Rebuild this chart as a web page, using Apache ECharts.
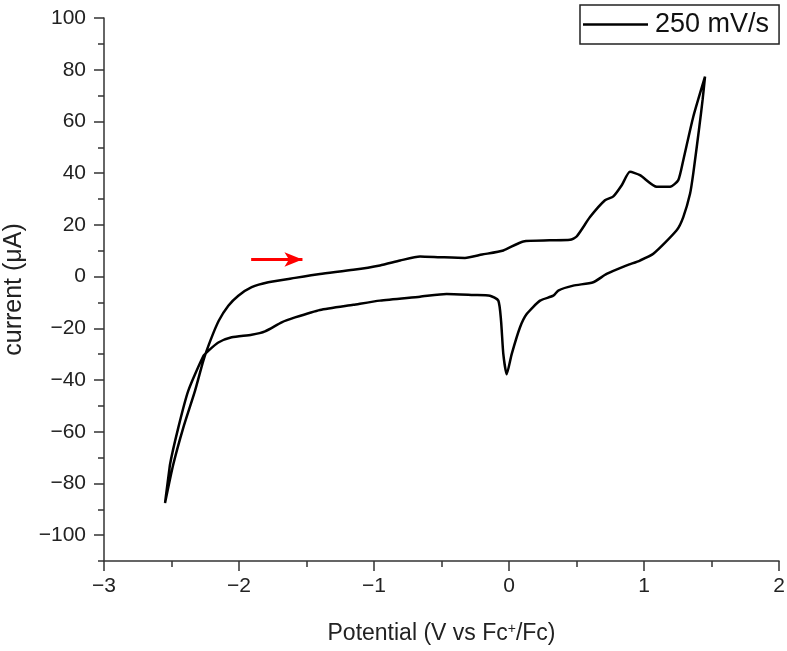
<!DOCTYPE html>
<html>
<head>
<meta charset="utf-8">
<script src="https://cdn.jsdelivr.net/npm/echarts@6/dist/echarts.min.js"></script>
<style>
  html, body { margin: 0; padding: 0; background: #fff; }
  #chart { width: 787px; height: 651px; }
</style>
</head>
<body>
<div id="chart"></div>
<script>
// forward scan (upper branch), V vs Fc+/Fc and µA
const forwardPotential = [-2.548, -2.487, -2.413, -2.326, -2.264, -2.21, -2.15, -2.079, -2.005, -1.906,
  -1.783, -1.585, -1.4, -1.153, -0.956, -0.807, -0.659, -0.511, -0.326, -0.2, -0.042, 0.106, 0.3, 0.452,
  0.501, 0.6, 0.711, 0.773, 0.835, 0.896, 0.97, 1.094, 1.193, 1.254, 1.291, 1.365, 1.452]
const forwardCurrent = [-87.6, -72.7, -58.5, -44.2, -32.5, -24.5, -17.1, -11.3, -7.4, -4.1,
  -2.2, -0.5, 1.0, 2.6, 4.3, 6.2, 7.8, 7.5, 7.2, 8.5, 10.1, 13.6, 14.0, 14.2,
  15.5, 23, 29.5, 31, 35.3, 40.5, 39.2, 34.7, 34.7, 37.3, 45, 61.8, 77.3]

// reverse scan (lower branch)
const reversePotential = [1.434, 1.41, 1.365, 1.341, 1.291, 1.242, 1.069, 0.97, 0.872, 0.723, 0.624, 0.476,
  0.365, 0.328, 0.23, 0.131, 0.081, 0.02, -0.017, -0.042, -0.059, -0.079, -0.141, -0.264, -0.462, -0.659,
  -0.956, -1.153, -1.4, -1.585, -1.684, -1.807, -1.906, -2.054, -2.153, -2.227, -2.264, -2.376, -2.45,
  -2.511, -2.548]
const reverseCurrent = [68.3, 58, 39.9, 32, 23, 17.9, 8.8, 6.2, 4.3, 1.0, -2.2, -3.5,
  -5.4, -7.4, -9.3, -14.5, -19.7, -30, -37.8, -30, -17, -9.3, -7.4, -7.1, -6.7, -7.8,
  -9.3, -10.9, -12.9, -15.8, -17.7, -21.2, -22.5, -23.5, -25.5, -28.7, -30.7, -44.2, -58.5,
  -72.7, -87.6]

// y ticks: labelled majors and unlabelled minors
const yMajorTicks = [-100, -80, -60, -40, -20, 0, 20, 40, 60, 80, 100]
const yMinorTicks = [-110, -90, -70, -50, -30, -10, 10, 30, 50, 70, 90]

// scan direction arrow
const arrowStart = [-1.91, 6.6]
const arrowEnd = [-1.53, 6.6]

const seriesName = '250 mV/s'

const cvData = forwardPotential.map((x, i) => [x, forwardCurrent[i]])
  .concat(reversePotential.map((x, i) => [x, reverseCurrent[i]]))

const chart = echarts.init(document.getElementById('chart'), null, { renderer: 'canvas' })

const fontFamily = '"Liberation Sans", Arial, sans-serif'
const minus = v => String(v).replace('-', '\u2212')
const axisColor = '#333'

chart.setOption({
  animation: false,
  backgroundColor: '#fff',
  textStyle: { fontFamily },
  grid: { left: 104, right: 8, top: 18, bottom: 90, outerBoundsMode: 'none' },
  legend: {
    data: [{ name: seriesName, icon: 'rect' }],
    left: 580,
    top: 5,
    padding: [6, 10, 6, 3],
    itemWidth: 65,
    itemHeight: 2.5,
    borderColor: '#222',
    borderWidth: 1.5,
    itemStyle: { color: '#000' },
    textStyle: { fontSize: 27, color: '#111', fontFamily, padding: [0, 0, 0, 2] }
  },
  xAxis: {
    type: 'value',
    min: -3,
    max: 2,
    interval: 1,
    name: 'Potential (V vs Fc{sup|+}/Fc)',
    nameLocation: 'middle',
    nameGap: 61,
    nameTextStyle: {
      fontSize: 23, color: '#222',
      rich: { sup: { fontSize: 14, verticalAlign: 'top', padding: [0, 0, 10, 0], color: '#222' } }
    },
    axisLine: { onZero: false, lineStyle: { color: axisColor, width: 1.5 } },
    axisTick: { length: 10, lineStyle: { color: axisColor, width: 1.5 } },
    minorTick: { show: true, splitNumber: 2, length: 6, lineStyle: { color: axisColor, width: 1.5 } },
    axisLabel: { fontSize: 21, color: '#222', margin: 15, formatter: minus },
    splitLine: { show: false }
  },
  yAxis: [
    {
      type: 'value',
      min: -110,
      max: 100,
      interval: 10,
      name: 'current (\u03bcA)',
      nameLocation: 'middle',
      nameGap: 77,
      nameTextStyle: { fontSize: 25, color: '#222' },
      axisLine: { onZero: false, lineStyle: { color: axisColor, width: 1.5 } },
      axisTick: { length: 10, customValues: yMajorTicks, lineStyle: { color: axisColor, width: 1.5 } },
      axisLabel: { fontSize: 21, color: '#222', margin: 18, customValues: yMajorTicks, formatter: minus },
      splitLine: { show: false }
    },
    {
      type: 'value',
      position: 'left',
      min: -110,
      max: 100,
      interval: 10,
      axisLine: { show: false, onZero: false },
      axisTick: { length: 6, customValues: yMinorTicks, lineStyle: { color: axisColor, width: 1.5 } },
      axisLabel: { show: false },
      splitLine: { show: false }
    }
  ],
  series: [
    {
      name: seriesName,
      type: 'line',
      data: cvData,
      symbol: 'none',
      smooth: 0.2,
      lineStyle: { color: '#000', width: 2.5 },
      itemStyle: { color: '#000' },
      markLine: {
        silent: true,
        animation: false,
        label: { show: false },
        lineStyle: { color: '#ff0000', width: 3, type: 'solid' },
        symbolSize: [11, 18],
        data: [[
          { coord: arrowStart, symbol: 'none' },
          { coord: arrowEnd, symbol: 'arrow' }
        ]]
      }
    }
  ]
})
</script>
</body>
</html>
